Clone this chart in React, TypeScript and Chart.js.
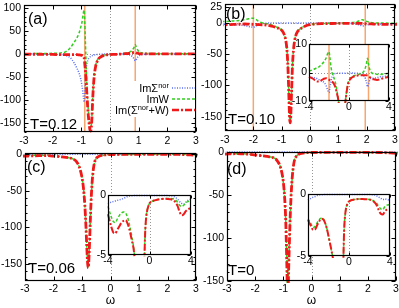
import React, { useEffect, useRef } from "react";
import { Chart, registerables } from "chart.js";
Chart.register(...registerables);

const FONT = '"Liberation Sans", Arial, Helvetica, sans-serif';
const BLUE = "rgb(90,110,245)";
const GREEN = "rgb(50,205,30)";
const RED = "rgb(240,25,25)";
const ORANGE = "rgb(248,165,110)";
const GRAY = "rgb(150,150,150)";

// ---------------- data: panel (a), T = 0.12 ----------------
const A_X = [-3, -2.5, -2, -1.6, -1.4, -1.25, -1.15, -1.08, -1.02, -0.98, -0.95, -0.92, -0.9, -0.88, -0.86, -0.84, -0.82, -0.8, -0.78, -0.76, -0.74, -0.72, -0.7, -0.68, -0.66, -0.64, -0.62, -0.6, -0.57, -0.54, -0.5, -0.45, -0.4, -0.3, -0.2, -0.1, 0, 0.2, 0.4, 0.6, 0.7, 0.78, 0.84, 0.88, 0.92, 0.98, 1.05, 1.15, 1.3, 1.6, 2, 2.5, 3];
const A_SIGMA = [0, -0.5, -1, -3, -8, -20, -32, -42, -55, -68, -82, -98, -105, -92, -65, -42, -28, -20, -15, -12, -10, -8, -7, -6, -5, -4.5, -4, -3.5, -3, -2.5, -2, -1.5, -1.2, -0.8, -0.5, -0.3, -0.2, -0.3, -0.5, -1.5, -3, -6, -11, -15, -12, -6, -3, -1.5, -0.8, -0.3, -0.2, 0, 0];
const A_W = [0, 0.5, 1, 3, 12, 25, 35, 45, 58, 68, 80, 92, 95, 70, 30, -10, -45, -75, -100, -120, -135, -148, -158, -162, -160, -145, -120, -90, -60, -40, -25, -15, -10, -5, -3, -2, -1.5, -1, 0, 2, 4, 8, 14, 20, 14, 7, 3, 1.5, 0.8, 0.3, 0, 0, 0];
const A_SUM = [-1, -1, -1.5, -2, -2, -2, -2, -2.5, -3, -3.5, -4, -6, -10, -22, -35, -52, -73, -95, -115, -132, -145, -156, -165, -168, -165, -150, -124, -94, -63, -43, -27, -17, -11, -6, -3.5, -2.3, -1.7, -1.3, -0.5, 0.5, 1, 2, 3, 3, 2, 1, 0, 0, 0, 0, 0, 0, 0];

// ---------------- data: panel (b), T = 0.10 ----------------
const B_X = [-4, -3.6, -3.3, -3.0, -2.7, -2.5, -2.3, -2.2, -2.1, -2.0, -1.9, -1.8, -1.7, -1.6, -1.5, -1.4, -1.3, -1.2, -1.1, -1.0, -0.95, -0.9, -0.86, -0.82, -0.79, -0.76, -0.74, -0.72, -0.7, -0.68, -0.65, -0.62, -0.58, -0.54, -0.5, -0.45, -0.4, -0.35, -0.3, -0.2, -0.1, 0, 0.2, 0.4, 0.7, 1.0, 1.3, 1.5, 1.65, 1.75, 1.85, 1.95, 2.1, 2.3, 2.5, 2.8, 3.1, 3.4, 3.7, 4];
const B_SIGMA = [-1.5, -1.8, -2.0, -2.5, -3.0, -3.5, -4.5, -5.5, -6.5, -7.0, -5.0, -3.0, -1.5, -0.8, -0.5, -0.4, -0.35, -0.3, -0.3, -0.3, -0.3, -0.3, -0.3, -0.3, -0.3, -0.3, -0.3, -0.3, -0.3, -0.3, -0.3, -0.3, -0.3, -0.3, -0.3, -0.3, -0.3, -0.3, -0.3, -0.25, -0.2, -0.2, -0.2, -0.2, -0.25, -0.3, -0.6, -1.2, -2.2, -3.5, -5.0, -4.0, -2.5, -2.0, -2.0, -1.8, -1.5, -1.4, -1.3, -1.2];
const B_W = [0.5, 1.0, 1.5, 2.0, 3.0, 3.8, 5.0, 6.0, 7.0, 7.3, 5.0, 2.0, 0, -1.0, -2.0, -3.0, -4.5, -6.5, -8.7, -11.7, -14.7, -19.7, -26.7, -39.7, -59.7, -94.7, -124.7, -151.7, -159.7, -149.7, -109.7, -69.7, -41.7, -27.7, -19.7, -14.7, -11.7, -9.7, -8.2, -5.75, -3.8, -2.8, -1.8, -1.3, -0.9, -0.6, -0.2, 0.5, 1.8, 3.2, 5.0, 3.0, 0.8, -0.2, -0.4, -0.6, -0.7, -0.5, -0.4, -0.3];
const B_SUM = [-1.5, -2.2, -3.0, -3.2, -2.6, -2.2, -2.0, -2.1, -2.3, -2.5, -2.8, -3.0, -3.2, -3.5, -4.0, -4.8, -6.0, -7.5, -9.0, -12, -15, -20, -27, -40, -60, -95, -125, -152, -160, -150, -110, -70, -42, -28, -20, -15, -12, -10, -8.5, -6, -4, -3, -2, -1.5, -1.2, -1.0, -1.0, -1.0, -1.0, -1.0, -1.1, -1.3, -1.7, -2.2, -2.4, -2.6, -2.4, -2.0, -1.8, -1.5];

// ---------------- data: panel (c), T = 0.06 ----------------
const C_X = [-4, -3.7, -3.5, -3.3, -3.1, -2.9, -2.7, -2.5, -2.3, -2.1, -1.9, -1.7, -1.5, -1.3, -1.2, -1.1, -1.0, -0.95, -0.9, -0.86, -0.83, -0.8, -0.78, -0.76, -0.73, -0.7, -0.67, -0.64, -0.6, -0.55, -0.5, -0.45, -0.4, -0.3, -0.2, -0.1, 0, 0.2, 0.5, 1.0, 1.5, 2.0, 2.4, 2.7, 2.9, 3.1, 3.3, 3.5, 3.7, 4];
const C_SIGMA = [-0.75, -0.6, -0.55, -0.5, -0.45, -0.4, -0.35, -0.28, -0.2, -0.12, -0.08, -0.06, -0.05, -0.05, -0.05, -0.05, -0.05, -0.05, -0.05, -0.05, -0.05, -0.05, -0.05, -0.05, -0.05, -0.05, -0.05, -0.05, -0.05, -0.05, -0.05, -0.05, -0.05, -0.05, -0.05, -0.05, -0.05, -0.05, -0.05, -0.05, -0.05, -0.06, -0.15, -0.35, -0.55, -0.7, -0.75, -0.6, -0.45, -0.35];
const C_W = [-0.95, -1.8, -2.2, -2.3, -2.0, -1.7, -1.5, -1.42, -1.5, -1.9, -2.6, -3.5, -4.6, -6.9, -9.9, -16.9, -31.9, -45.9, -69.9, -99.9, -127.9, -149.9, -154.9, -144.9, -114.9, -81.9, -54.9, -35.9, -19.9, -9.9, -5.9, -3.9, -2.8, -1.7, -1.2, -0.9, -0.7, -0.55, -0.45, -0.35, -0.3, -0.3, -0.35, -0.6, -0.85, -0.95, -0.85, -0.65, -0.55, -0.5];
const C_SUM = [-1.6, -2.6, -3.1, -3.2, -2.9, -2.6, -2.3, -2.15, -2.1, -2.4, -3.0, -3.8, -4.7, -7, -10, -17, -32, -46, -70, -100, -128, -150, -155, -145, -115, -82, -55, -36, -20, -10, -6, -4, -2.8, -1.7, -1.2, -0.9, -0.7, -0.55, -0.45, -0.35, -0.32, -0.35, -0.5, -0.9, -1.4, -1.7, -1.6, -1.35, -1.2, -1.1];

// ---------------- data: panel (d), T = 0 ----------------
const D_X = [-4, -3.7, -3.5, -3.3, -3.1, -2.9, -2.7, -2.5, -2.3, -2.1, -1.9, -1.7, -1.5, -1.3, -1.2, -1.1, -1.0, -0.95, -0.92, -0.89, -0.87, -0.85, -0.83, -0.81, -0.78, -0.75, -0.72, -0.68, -0.64, -0.6, -0.55, -0.5, -0.45, -0.4, -0.3, -0.2, -0.1, 0, 0.2, 0.5, 1.0, 1.5, 2.0, 2.4, 2.7, 2.9, 3.1, 3.3, 3.5, 3.7, 4];
const D_SIGMA = [-0.5, -0.35, -0.25, -0.2, -0.12, -0.08, -0.06, -0.05, -0.05, -0.05, -0.05, -0.05, -0.05, -0.05, -0.05, -0.05, -0.05, -0.05, -0.05, -0.05, -0.05, -0.05, -0.05, -0.05, -0.05, -0.05, -0.05, -0.05, -0.05, -0.05, -0.05, -0.05, -0.05, -0.05, -0.05, -0.05, -0.05, -0.05, -0.05, -0.05, -0.05, -0.05, -0.05, -0.06, -0.15, -0.25, -0.35, -0.45, -0.4, -0.45, -0.5];
const D_W = [-2.0, -2.4, -2.7, -2.6, -2.3, -2.05, -1.95, -2.0, -2.4, -3.0, -3.8, -4.6, -5.6, -7.5, -11, -18, -35, -55, -75, -110, -140, -170, -160, -135, -100, -70, -48, -28, -16, -9, -5.5, -3.6, -2.5, -1.9, -1.2, -0.9, -0.7, -0.6, -0.5, -0.45, -0.4, -0.42, -0.45, -0.55, -0.75, -1.0, -1.2, -1.25, -1.0, -0.9, -0.85];
const D_SUM = [-2.1, -2.6, -2.9, -2.85, -2.5, -2.2, -2.0, -2.05, -2.4, -3.0, -3.8, -4.6, -5.6, -7.5, -11, -18, -35, -55, -75, -110, -140, -170, -160, -135, -100, -70, -48, -28, -16, -9, -5.5, -3.6, -2.5, -1.9, -1.2, -0.9, -0.7, -0.6, -0.5, -0.45, -0.4, -0.42, -0.45, -0.6, -0.9, -1.3, -1.6, -1.65, -1.4, -1.25, -1.2];

// ---------------- ticks, markers, labels ----------------
const MAIN_XTICKS = [-3, -2, -1, 0, 1, 2, 3];
const A_YTICKS = [-150, -100, -50, 0, 50, 100];
const B_YTICKS = [-150, -100, -50, 0, 25];
const CD_YTICKS = [-150, -100, -50, 0];
const INSET_XTICKS = [-4, 0, 4];
const INSET_B_YTICKS = [-10, 0, 10];
const INSET_CD_YTICKS = [-5, 0];
const A_ORANGE = [-0.88, 0.88];
const B_ORANGE = [-2.0, 1.95];
const LEGEND_LABELS = [
  [{ t: "Im" }, { t: "Σ" }, { t: "nor", sup: true }],
  [{ t: "ImW" }],
  [{ t: "Im(" }, { t: "Σ" }, { t: "nor", sup: true }, { t: "+W)" }],
];

const pts = (xs: number[], ys: number[]) => xs.map((x, i) => ({ x, y: ys[i] }));

type Spec = any;

const PANELS: Spec[] = [
  {
    left: 0, top: 0, w: 200, h: 152, area: { l: 24, t: 5, r: 196, b: 132 },
    xs: A_X, blue: A_SIGMA, green: A_W, red: A_SUM,
    xMin: -3, xMax: 3, xTicks: MAIN_XTICKS, yMin: -170, yMax: 106, yTicks: A_YTICKS, yMinor: 10,
    vlines: A_ORANGE, zeroY: true, fs: 10.5, xPad: 3, yPad: 3, tl: 4,
    texts: [{ t: "(a)", x: 28, y: 24, s: 16 }, { t: "T=0.12", x: 30, y: 129, s: 15 }],
    legend: true,
  },
  {
    left: 200, top: 0, w: 199, h: 152, area: { l: 25, t: 4, r: 195, b: 131 },
    xs: B_X, blue: B_SIGMA, green: B_W, red: B_SUM,
    xMin: -3, xMax: 3, xTicks: MAIN_XTICKS, yMin: -173, yMax: 30, yTicks: B_YTICKS, yMinor: 10,
    vlines: B_ORANGE, zeroY: true, fs: 10.5, xPad: 3, yPad: 3, tl: 4,
    texts: [{ t: "(b)", x: 26, y: 19, s: 16 }, { t: "T=0.10", x: 28, y: 124, s: 15 }],
  },
  {
    left: 0, top: 140, w: 200, h: 168, area: { l: 25, t: 13, r: 196, b: 141 },
    xs: C_X, blue: C_SIGMA, green: C_W, red: C_SUM,
    xMin: -3, xMax: 3, xTicks: MAIN_XTICKS, yMin: -173, yMax: 1.5, yTicks: CD_YTICKS, yMinor: 10,
    fs: 10.5, xPad: 2, yPad: 3, tl: 4, xTitle: "ω",
    texts: [{ t: "(c)", x: 27, y: 32, s: 16 }, { t: "T=0.06", x: 28, y: 133, s: 15 }],
  },
  {
    left: 200, top: 140, w: 199, h: 168, area: { l: 27, t: 12, r: 196, b: 141 },
    xs: D_X, blue: D_SIGMA, green: D_W, red: D_SUM,
    xMin: -3, xMax: 3, xTicks: MAIN_XTICKS, yMin: -150, yMax: 0, yTicks: CD_YTICKS, yMinor: 10,
    fs: 10.5, xPad: 2, yPad: 3, tl: 4, xTitle: "ω",
    texts: [{ t: "(d)", x: 27, y: 34, s: 16 }, { t: "T=0", x: 28, y: 135, s: 15 }],
  },
  {
    left: 286, top: 36, w: 109, h: 77, area: { l: 23, t: 8, r: 103, b: 65 },
    xs: B_X, blue: B_SIGMA, green: B_W, red: B_SUM, inset: true,
    xMin: -4, xMax: 4, xTicks: INSET_XTICKS, yMin: -10, yMax: 10, yTicks: INSET_B_YTICKS,
    vlines: B_ORANGE, zeroY: true, fs: 10.5, xPad: 0, yPad: 2, tl: 3,
  },
  {
    left: 86, top: 186, w: 110, h: 82, area: { l: 22, t: 9, r: 105, b: 69 },
    xs: C_X, blue: C_SIGMA, green: C_W, red: C_SUM, inset: true,
    xMin: -4, xMax: 4, xTicks: INSET_XTICKS, yMin: -5, yMax: 0, yTicks: INSET_CD_YTICKS,
    fs: 10.5, xPad: 0, yPad: 2, tl: 3,
  },
  {
    left: 286, top: 185, w: 110, h: 84, area: { l: 22, t: 9, r: 104, b: 71 },
    xs: D_X, blue: D_SIGMA, green: D_W, red: D_SUM, inset: true,
    xMin: -4, xMax: 4, xTicks: INSET_XTICKS, yMin: -5, yMax: 0, yTicks: INSET_CD_YTICKS,
    fs: 10.5, xPad: 0, yPad: 2, tl: 3,
  },
];

function deco(s: Spec) {
  return {
    id: "deco",
    beforeDatasetsDraw(chart: any) {
      const { ctx, chartArea: a } = chart;
      const x = chart.scales.x, y = chart.scales.y;
      ctx.save();
      if (s.inset) {
        ctx.fillStyle = "#fff";
        ctx.fillRect(a.left, a.top, a.right - a.left, a.bottom - a.top);
      }
      ctx.beginPath();
      ctx.rect(a.left, a.top, a.right - a.left, a.bottom - a.top);
      ctx.clip();
      ctx.strokeStyle = GRAY;
      ctx.lineWidth = 1;
      ctx.setLineDash([1, 2]);
      const x0 = Math.round(x.getPixelForValue(0)) + 0.5;
      ctx.beginPath(); ctx.moveTo(x0, a.top); ctx.lineTo(x0, a.bottom); ctx.stroke();
      if (s.zeroY) {
        const y0 = Math.round(y.getPixelForValue(0)) + 0.5;
        ctx.beginPath(); ctx.moveTo(a.left, y0); ctx.lineTo(a.right, y0); ctx.stroke();
      }
      ctx.setLineDash([]);
      ctx.strokeStyle = ORANGE;
      ctx.lineWidth = 1.5;
      for (const v of s.vlines || []) {
        const px = x.getPixelForValue(v);
        ctx.beginPath(); ctx.moveTo(px, a.top); ctx.lineTo(px, a.bottom); ctx.stroke();
      }
      ctx.restore();
    },
    afterDatasetsDraw(chart: any) {
      const { ctx, chartArea: a } = chart;
      const x = chart.scales.x, y = chart.scales.y;
      ctx.save();
      ctx.setLineDash([]);
      ctx.strokeStyle = "#000";
      ctx.lineWidth = 1.2;
      const L = Math.round(a.left) + 0.5, T = Math.round(a.top) + 0.5;
      const R = Math.round(a.right) - 0.5, B = Math.round(a.bottom) - 0.5;
      ctx.strokeRect(L, T, R - L, B - T);
      ctx.lineWidth = 1;
      const tl = s.tl;
      ctx.beginPath();
      for (const v of s.xTicks) {
        const px = Math.round(x.getPixelForValue(v)) + 0.5;
        ctx.moveTo(px, B); ctx.lineTo(px, B - tl);
        ctx.moveTo(px, T); ctx.lineTo(px, T + tl);
      }
      for (const v of s.yTicks) {
        const py = Math.round(y.getPixelForValue(v)) + 0.5;
        ctx.moveTo(L, py); ctx.lineTo(L + tl, py);
        ctx.moveTo(R, py); ctx.lineTo(R - tl, py);
      }
      if (s.yMinor) {
        for (let v = Math.ceil(s.yMin / s.yMinor) * s.yMinor; v <= s.yMax; v += s.yMinor) {
          if (s.yTicks.includes(v)) continue;
          const py = Math.round(y.getPixelForValue(v)) + 0.5;
          ctx.moveTo(L, py); ctx.lineTo(L + 2, py);
          ctx.moveTo(R, py); ctx.lineTo(R - 2, py);
        }
      }
      ctx.stroke();

      ctx.fillStyle = "#000";
      ctx.textBaseline = "alphabetic";
      for (const t of s.texts || []) {
        ctx.font = `${t.s}px ${FONT}`;
        ctx.fillText(t.t, t.x, t.y);
      }

      if (s.legend) {
        ctx.fillStyle = "#fff";
        ctx.fillRect(112, 81, 83, 36);
        const styles = [
          { c: BLUE, d: [1, 1.5], w: 1.5 },
          { c: GREEN, d: [3, 2], w: 1.5 },
          { c: RED, d: [7, 2, 2, 2], w: 2.5 },
        ];
        const rowsY = [88, 99, 110];
        const right = 169;
        LEGEND_LABELS.forEach((parts: any[], i: number) => {
          const widths = parts.map((p) => {
            ctx.font = `${p.sup ? 7.5 : 11}px ${FONT}`;
            return ctx.measureText(p.t).width;
          });
          let cx = right - widths.reduce((q: number, r: number) => q + r, 0);
          ctx.fillStyle = "#000";
          parts.forEach((p, j) => {
            ctx.font = `${p.sup ? 7.5 : 11}px ${FONT}`;
            ctx.fillText(p.t, cx, rowsY[i] + (p.sup ? -0.5 : 4));
            cx += widths[j];
          });
          const st = styles[i];
          ctx.strokeStyle = st.c;
          ctx.lineWidth = st.w;
          ctx.setLineDash(st.d);
          ctx.beginPath(); ctx.moveTo(172, rowsY[i]); ctx.lineTo(195, rowsY[i]); ctx.stroke();
        });
      }
      ctx.restore();
    },
  };
}

function makeConfig(s: Spec): any {
  const base = { pointRadius: 0, fill: false, cubicInterpolationMode: "monotone", clip: 2, borderCapStyle: "butt" };
  const datasets = [
    { ...base, label: "Im(Σnor+W)", data: pts(s.xs, s.red), borderColor: RED, borderWidth: s.inset ? 2 : 2.8, borderDash: [7, 2, 2, 2], order: 0 },
    { ...base, label: "ImW", data: pts(s.xs, s.green), borderColor: GREEN, borderWidth: 1.5, borderDash: [3, 2], order: 1 },
    { ...base, label: "ImΣnor", data: pts(s.xs, s.blue), borderColor: BLUE, borderWidth: 1.5, borderDash: [1, 1.5], order: 2 },
  ];
  const tickFont = { family: FONT, size: s.fs };
  return {
    type: "line",
    data: { datasets },
    options: {
      responsive: false,
      maintainAspectRatio: false,
      animation: false,
      devicePixelRatio: 1,
      events: [],
      layout: { padding: { left: 0, top: s.area.t, right: s.w - s.area.r, bottom: 0 } },
      plugins: { legend: { display: false }, tooltip: { enabled: false } },
      scales: {
        x: {
          type: "linear", min: s.xMin, max: s.xMax,
          afterBuildTicks: (sc: any) => { sc.ticks = s.xTicks.map((v: number) => ({ value: v })); },
          afterFit: (sc: any) => { sc.height = s.h - s.area.b; sc.paddingLeft = 0; sc.paddingRight = 0; },
          ticks: { font: tickFont, color: "#000", padding: s.xPad, maxRotation: 0, minRotation: 0, autoSkip: false, callback: (v: any) => String(v) },
          grid: { display: false, drawTicks: false },
          border: { display: false },
          title: s.xTitle
            ? { display: true, text: s.xTitle, font: { family: FONT, size: 12 }, color: "#000", padding: 0 }
            : { display: false },
        },
        y: {
          type: "linear", min: s.yMin, max: s.yMax,
          afterBuildTicks: (sc: any) => { sc.ticks = s.yTicks.map((v: number) => ({ value: v })); },
          afterFit: (sc: any) => { sc.width = s.area.l; sc.paddingTop = 0; sc.paddingBottom = 0; },
          ticks: { font: tickFont, color: "#000", padding: s.yPad, autoSkip: false, callback: (v: any) => String(v) },
          grid: { display: false, drawTicks: false },
          border: { display: false },
        },
      },
    },
    plugins: [deco(s)],
  };
}

function Panel({ spec }: { spec: Spec }) {
  const ref = useRef<HTMLCanvasElement>(null);
  useEffect(() => {
    const chart = new Chart(ref.current as HTMLCanvasElement, makeConfig(spec));
    return () => chart.destroy();
  }, [spec]);
  return (
    <canvas
      ref={ref}
      width={spec.w}
      height={spec.h}
      style={{ position: "absolute", left: spec.left, top: spec.top, width: spec.w, height: spec.h }}
    />
  );
}

export default function App() {
  return (
    <div style={{ position: "absolute", left: 0, top: 0, width: 399, height: 308, background: "#fff", overflow: "hidden" }}>
      {PANELS.map((p, i) => (
        <Panel key={i} spec={p} />
      ))}
    </div>
  );
}
